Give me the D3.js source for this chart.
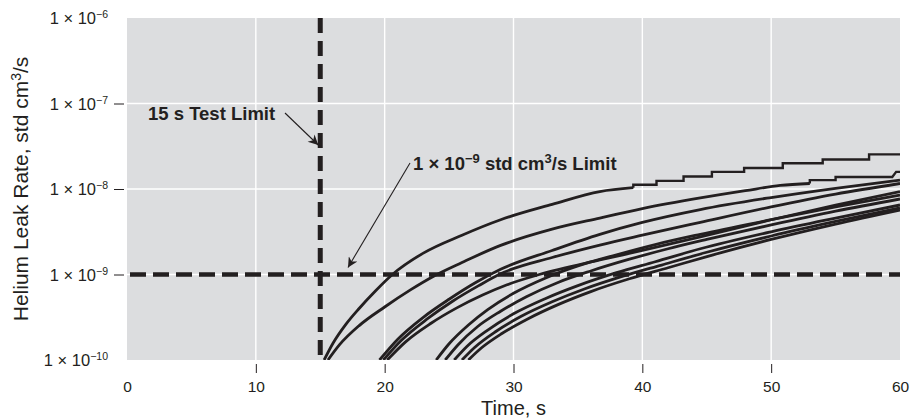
<!DOCTYPE html>
<html>
<head>
<meta charset="utf-8">
<script src="https://cdn.jsdelivr.net/npm/d3@7/dist/d3.min.js"></script>
<style>
  html, body { margin: 0; padding: 0; background: #ffffff; }
  svg { display: block; }
  text { font-family: "Liberation Sans", Arial, Helvetica, sans-serif; fill: #231f20; }
</style>
</head>
<body>
<svg id="chart" width="920" height="419"></svg>
<script>
// ---------------- data ----------------
const xTicks = [0, 10, 20, 30, 40, 50, 60];
const xTickMarks = [10, 20, 30, 40, 50];
const yTicks = [1e-10, 1e-9, 1e-8, 1e-7, 1e-6];
const yTickExponents = ["−10", "−9", "−8", "−7", "−6"];
const yTickMarks = [1e-9, 1e-8, 1e-7];
const testLimitTime = 15;          // s
const leakLimit = 1e-9;            // std cm3/s

// leak-rate traces: [time s, leak rate std cm3/s]
const trace1 = [[15.3,1.00e-10],[16,1.58e-10],[17,2.63e-10],[18,3.98e-10],[19.3,6.46e-10],[20.6,1.00e-9],
  [23,1.78e-9],[26,2.88e-9],[29,4.37e-9],[33,6.61e-9],[36.7,9.33e-9],[39.3,1.035e-8]];
// quantised (staircase) end of trace 1
const trace1Steps = [[39.3,1.035e-8],
  [39.3,1.12e-8],[41.1,1.12e-8],[41.1,1.245e-8],[43.2,1.245e-8],[43.2,1.40e-8],[45.4,1.40e-8],
  [45.4,1.585e-8],[47.9,1.585e-8],[47.9,1.76e-8],[50.9,1.76e-8],[50.9,2.00e-8],[54.0,2.00e-8],
  [54.0,2.21e-8],[57.6,2.21e-8],[57.6,2.54e-8],[60,2.54e-8]];
const trace2 = [[15.6,1.00e-10],[16.5,1.51e-10],[18,2.51e-10],[20,4.17e-10],[22,6.61e-10],[23.8,9.55e-10],
  [26,1.38e-9],[29,2.19e-9],[33,3.39e-9],[36.7,4.57e-9],[40,5.89e-9],[44.5,7.85e-9],[48,9.55e-9],
  [50.7,1.10e-8],[53,1.16e-8]];
const trace2Steps = [[53,1.16e-8],[53,1.27e-8],[55,1.27e-8],[55,1.38e-8],[59.4,1.38e-8],[59.7,1.585e-8],[60,1.585e-8]];
const trace3 = [[19.6,1.00e-10],[21,1.74e-10],[23,3.16e-10],[25,5.13e-10],[27,7.94e-10],[29,1.15e-9],
  [33,1.91e-9],[36.7,2.95e-9],[40,4.07e-9],[44.5,5.75e-9],[50,7.94e-9],[55,1.02e-8],[60,1.27e-8]];
const trace4 = [[19.9,1.00e-10],[21.3,1.70e-10],[23.3,3.02e-10],[25.3,4.90e-10],[27.3,7.41e-10],[29,1.02e-9],
  [33,1.58e-9],[36.7,2.21e-9],[40,2.88e-9],[44.5,4.07e-9],[50,6.17e-9],[55,8.71e-9],[60,1.16e-8]];
const trace5 = [[20.2,1.00e-10],[21.6,1.62e-10],[23.6,2.69e-10],[25.6,4.07e-10],[27.6,5.75e-10],[29.5,7.59e-10],
  [32,1.00e-9],[36.7,1.48e-9],[40,1.91e-9],[44.5,2.75e-9],[50,4.37e-9],[55,6.46e-9],[60,9.33e-9]];
const trace6 = [[24.0,1.00e-10],[25,1.55e-10],[26.5,2.57e-10],[28,3.89e-10],[30,6.03e-10],[32.5,9.12e-10],
  [35,1.26e-9],[38,1.70e-9],[41,2.24e-9],[44.5,2.95e-9],[50,4.37e-9],[55,6.17e-9],[60,8.51e-9]];
const trace7 = [[24.7,1.00e-10],[25.7,1.51e-10],[27.2,2.45e-10],[29,3.72e-10],[31,5.50e-10],[33.5,8.13e-10],
  [36,1.10e-9],[39,1.51e-9],[42,2.00e-9],[45,2.57e-9],[50,3.80e-9],[55,5.50e-9],[60,7.64e-9]];
const trace8 = [[25.4,1.00e-10],[26.4,1.45e-10],[28,2.24e-10],[30,3.47e-10],[32.5,5.25e-10],[35,7.41e-10],
  [38,1.05e-9],[41,1.41e-9],[44.5,2.00e-9],[50,3.16e-9],[55,4.57e-9],[60,6.50e-9]];
const trace9 = [[26.0,1.00e-10],[27,1.41e-10],[28.6,2.14e-10],[30.6,3.24e-10],[33,4.79e-10],[35.5,6.76e-10],
  [38.5,9.55e-10],[41.5,1.29e-9],[45,1.82e-9],[50,2.82e-9],[55,4.17e-9],[60,6.00e-9]];
const trace10 = [[26.5,1.00e-10],[27.5,1.38e-10],[29.1,2.04e-10],[31.1,3.02e-10],[33.5,4.47e-10],[36,6.31e-10],
  [39,8.91e-10],[42,1.20e-9],[45.5,1.70e-9],[50,2.57e-9],[55,3.89e-9],[60,5.68e-9]];
const smoothTraces = [trace1, trace2, trace3, trace4, trace5, trace6, trace7, trace8, trace9, trace10];
const stepTraces = [trace1Steps, trace2Steps];

// ---------------- layout ----------------
const svg = d3.select("#chart");
const plot = { left: 127, right: 900, top: 18, bottom: 360 };
const x = d3.scaleLinear().domain([0, 60]).range([plot.left, plot.right]);
const y = d3.scaleLog().domain([1e-10, 1e-6]).range([plot.bottom, plot.top]);
const ink = "#231f20";

svg.append("rect")
  .attr("x", plot.left).attr("y", plot.top)
  .attr("width", plot.right - plot.left).attr("height", plot.bottom - plot.top)
  .attr("fill", "#dcdddf");

// grid
svg.append("g").selectAll("line").data(xTickMarks).join("line")
  .attr("x1", d => x(d)).attr("x2", d => x(d))
  .attr("y1", plot.top).attr("y2", plot.bottom)
  .attr("stroke", "#ffffff").attr("stroke-width", 1.4);
svg.append("g").selectAll("line").data(yTickMarks).join("line")
  .attr("x1", plot.left).attr("x2", plot.right)
  .attr("y1", d => y(d)).attr("y2", d => y(d))
  .attr("stroke", "#ffffff").attr("stroke-width", 1.4);

// x axis
const xAxis = svg.append("g").attr("transform", `translate(0,${plot.bottom + 4})`)
  .call(d3.axisBottom(x).tickValues(xTicks).tickSize(9).tickPadding(8).tickFormat(d3.format("d")));
xAxis.select(".domain").remove();
xAxis.selectAll(".tick line").attr("stroke", ink).attr("stroke-width", 1)
  .attr("display", d => xTickMarks.includes(d) ? null : "none");
xAxis.selectAll(".tick text")
  .style("font-family", '"Liberation Sans", Arial, sans-serif')
  .style("font-size", "15.5px").attr("fill", ink);

// y axis
const yAxis = svg.append("g").attr("transform", `translate(${plot.left - 3},0)`)
  .call(d3.axisLeft(y).tickValues(yTicks).tickSize(10).tickFormat(""));
yAxis.select(".domain").remove();
yAxis.selectAll(".tick line").attr("stroke", ink).attr("stroke-width", 1)
  .attr("display", d => yTickMarks.includes(d) ? null : "none");
yAxis.selectAll(".tick text").remove();
yAxis.selectAll(".tick").each(function(d) {
  const t = d3.select(this).append("text")
    .attr("x", -16).attr("y", 0).attr("dy", "0.36em")
    .attr("text-anchor", "end")
    .style("font-family", '"Liberation Sans", Arial, sans-serif')
    .style("font-size", "16.5px").attr("fill", ink);
  t.append("tspan").text("1 × 10");
  t.append("tspan").attr("dy", "-6").style("font-size", "10.5px").text(yTickExponents[yTicks.indexOf(d)]);
});

// axis titles
svg.append("text")
  .attr("x", (plot.left + plot.right) / 2).attr("y", 415)
  .attr("text-anchor", "middle").style("font-size", "20px").text("Time, s");
const yt = svg.append("text")
  .attr("transform", `translate(28,${(plot.top + plot.bottom) / 2}) rotate(-90)`)
  .attr("text-anchor", "middle").style("font-size", "21px");
yt.append("tspan").text("Helium Leak Rate, std cm");
yt.append("tspan").attr("dy", -7).style("font-size", "14px").text("3");
yt.append("tspan").attr("dy", 7).text("/s");

// traces
svg.append("clipPath").attr("id", "clip").append("rect")
  .attr("x", plot.left).attr("y", plot.top)
  .attr("width", plot.right - plot.left).attr("height", plot.bottom - plot.top);
const traceG = svg.append("g").attr("clip-path", "url(#clip)");
const smoothLine = d3.line().x(d => x(d[0])).y(d => y(d[1])).curve(d3.curveMonotoneX);
const stepLine = d3.line().x(d => x(d[0])).y(d => y(d[1])).curve(d3.curveLinear);
traceG.selectAll("path.smooth").data(smoothTraces).join("path").attr("class", "smooth")
  .attr("d", smoothLine).attr("fill", "none")
  .attr("stroke", ink).attr("stroke-width", 2.8).attr("stroke-linejoin", "round");
traceG.selectAll("path.step").data(stepTraces).join("path").attr("class", "step")
  .attr("d", stepLine).attr("fill", "none")
  .attr("stroke", ink).attr("stroke-width", 2.4).attr("stroke-linejoin", "miter");

// limit lines
svg.append("line")
  .attr("x1", plot.left + 3).attr("x2", plot.right)
  .attr("y1", y(leakLimit)).attr("y2", y(leakLimit))
  .attr("stroke", ink).attr("stroke-width", 4.5).attr("stroke-dasharray", "16,7");
svg.append("line")
  .attr("x1", x(testLimitTime)).attr("x2", x(testLimitTime))
  .attr("y1", plot.top).attr("y2", plot.bottom)
  .attr("stroke", ink).attr("stroke-width", 5).attr("stroke-dasharray", "15,8");

// annotations
const defs = svg.append("defs");
defs.append("marker").attr("id", "arrow")
  .attr("viewBox", "0 0 10 10").attr("refX", 10).attr("refY", 5)
  .attr("markerWidth", 13).attr("markerHeight", 10).attr("markerUnits", "userSpaceOnUse")
  .attr("orient", "auto")
  .append("path").attr("d", "M0,0 L10,5 L0,10 L3,5 Z").attr("fill", ink);

svg.append("text").attr("x", 148).attr("y", 120)
  .style("font-size", "18.5px").style("font-weight", "bold").text("15 s Test Limit");
svg.append("line").attr("x1", 285).attr("y1", 113).attr("x2", x(testLimitTime) - 2).attr("y2", 145)
  .attr("stroke", ink).attr("stroke-width", 1.1).attr("marker-end", "url(#arrow)");

const lt = svg.append("text").attr("x", 413).attr("y", 170)
  .style("font-size", "18.5px").style("font-weight", "bold");
lt.append("tspan").text("1 × 10");
lt.append("tspan").attr("dy", -7).style("font-size", "13px").text("−9");
lt.append("tspan").attr("dy", 7).text(" std cm");
lt.append("tspan").attr("dy", -7).style("font-size", "13px").text("3");
lt.append("tspan").attr("dy", 7).text("/s Limit");
svg.append("line").attr("x1", 410).attr("y1", 163).attr("x2", 348).attr("y2", y(leakLimit) - 7)
  .attr("stroke", ink).attr("stroke-width", 1.1).attr("marker-end", "url(#arrow)");
</script>
</body>
</html>
